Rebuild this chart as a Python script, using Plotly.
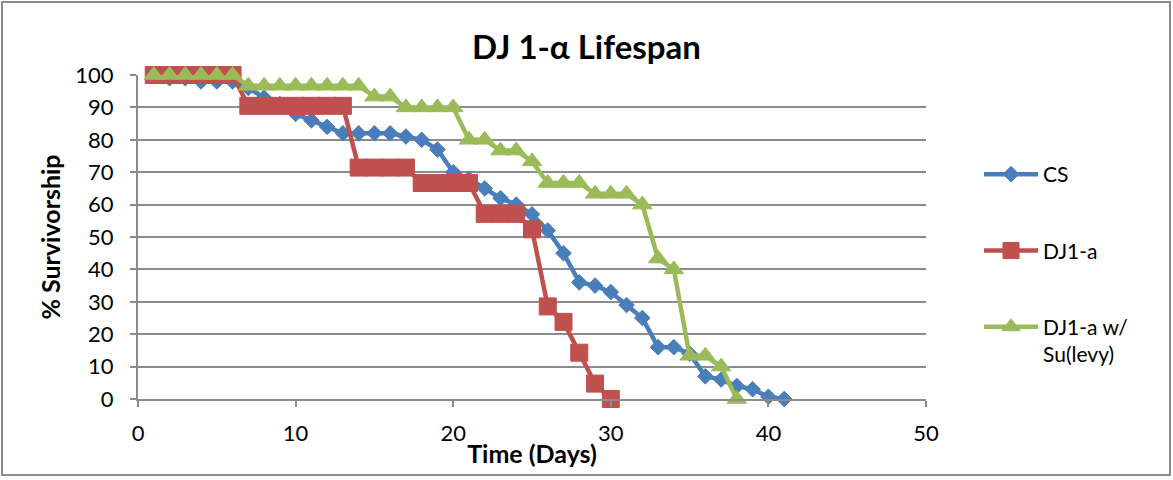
import plotly.graph_objects as go

# Survival data (% of flies alive on each day)
cs_days = list(range(1, 42))
cs_surv = [100, 99, 99, 98, 98, 98, 96, 93, 91, 88, 86, 84, 82, 82, 82, 82, 81, 80, 77, 70,
           68, 65, 62, 60, 57, 52, 45, 36, 35, 33, 29, 25, 16, 16, 14, 7, 6, 4, 3, 0.7, 0]

dj1_days = list(range(1, 31))
dj1_surv = [100, 100, 100, 100, 100, 100,
            90.48, 90.48, 90.48, 90.48, 90.48, 90.48, 90.48,
            71.43, 71.43, 71.43, 71.43,
            66.67, 66.67, 66.67, 66.67,
            57.14, 57.14, 57.14,
            52.38, 28.57, 23.81, 14.29, 4.76, 0]

levy_days = list(range(1, 39))
levy_surv = [100, 100, 100, 100, 100, 100,
             96.67, 96.67, 96.67, 96.67, 96.67, 96.67, 96.67, 96.67,
             93.33, 93.33,
             90, 90, 90, 90,
             80, 80,
             76.67, 76.67,
             73.33,
             66.67, 66.67, 66.67,
             63.33, 63.33, 63.33,
             60, 43.33, 40, 13.33, 13.33, 10, 0]

x_ticks = [0, 10, 20, 30, 40, 50]
y_ticks = [0, 10, 20, 30, 40, 50, 60, 70, 80, 90, 100]

series_names = ["CS", "DJ1-a", "DJ1-a w/<br>Su(levy)"]
colors = ["#4A7EBB", "#C0504D", "#9BBB59"]

FONT = "Lato"
GRID = "#8C8C8C"

W, H = 1173, 480
L, R, T, B = 138, 247, 75, 81
pw, ph = W - L - R, H - T - B

fig = go.Figure()
fig.add_trace(go.Scatter(
    x=cs_days, y=cs_surv, name=series_names[0], mode="lines+markers",
    line=dict(color=colors[0], width=4.5),
    marker=dict(symbol="diamond", size=12, color=colors[0], line=dict(width=1, color=colors[0])),
    legendgroup="a", cliponaxis=False))
fig.add_trace(go.Scatter(
    x=dj1_days, y=dj1_surv, name=series_names[1], mode="lines+markers",
    line=dict(color=colors[1], width=4.5),
    marker=dict(symbol="square", size=17, color=colors[1], line=dict(width=1, color=colors[1])),
    legendgroup="b", cliponaxis=False))
fig.add_trace(go.Scatter(
    x=levy_days, y=levy_surv, name=series_names[2], mode="lines+markers",
    line=dict(color=colors[2], width=4.5),
    marker=dict(symbol="triangle-up", size=17, color=colors[2], line=dict(width=1, color=colors[2])),
    legendgroup="c", cliponaxis=False))

# Outer chart border
fig.add_shape(type="rect", xref="paper", yref="paper",
              x0=(2 - L) / pw, x1=(1170 - L) / pw,
              y0=(H - B - 475) / ph, y1=(H - B - 2) / ph,
              line=dict(color="#8C8C8C", width=2), fillcolor="rgba(0,0,0,0)", layer="below")

fig.update_layout(
    width=W, height=H,
    margin=dict(l=L, r=R, t=T, b=B),
    paper_bgcolor="white", plot_bgcolor="white",
    font=dict(family=FONT, size=21, color="black"),
    title=dict(text="<b>DJ 1-α Lifespan</b>", x=0.5, xref="container",
               y=1 - 47 / H, yref="container", yanchor="middle",
               font=dict(family=FONT, size=33, color="black")),
    xaxis=dict(range=[0, 50], tickvals=x_ticks, showgrid=False, zeroline=False,
               showline=True, linecolor=GRID, linewidth=2,
               ticks="outside", ticklen=6, tickcolor=GRID, tickwidth=2,
               tickfont=dict(size=22), ticklabelstandoff=8,
               title=dict(text="<b>Time (Days)</b>", font=dict(size=25), standoff=0)),
    yaxis=dict(range=[0, 100], tickvals=y_ticks, showgrid=True, gridcolor=GRID, gridwidth=2,
               zeroline=False, showline=True, linecolor=GRID, linewidth=2,
               ticks="outside", ticklen=6, tickcolor=GRID, tickwidth=2,
               tickfont=dict(size=22), ticklabelstandoff=12,
               title=dict(text="<b>% Survivorship</b>", font=dict(size=25), standoff=8)),
    legend=dict(x=(979 - L) / pw, xanchor="left", y=(H - B - 154) / ph, yanchor="top",
                tracegroupgap=46, itemwidth=54, valign="top",
                font=dict(size=21), bgcolor="rgba(0,0,0,0)"),
    showlegend=True,
)

fig.write_html("out.html")
